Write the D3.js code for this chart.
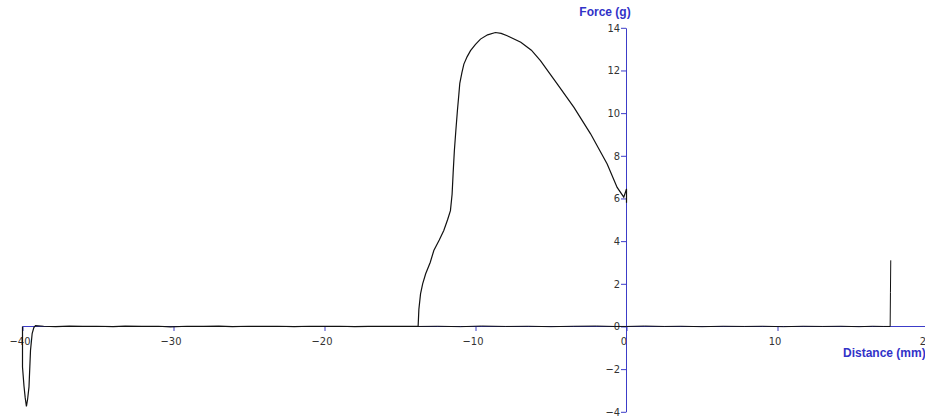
<!DOCTYPE html>
<html>
<head>
<meta charset="utf-8">
<script src="https://cdn.jsdelivr.net/npm/d3@7/dist/d3.min.js"></script>
<style>
  html, body { margin: 0; padding: 0; background: #ffffff; overflow: hidden; }
  svg { display: block; }
  .tick text { font-family: "DejaVu Sans", sans-serif; font-stretch: condensed; font-size: 11px; fill: #333; }
  .title { font-family: "Liberation Sans", Arial, sans-serif; font-weight: bold; font-size: 12px; fill: #3232c8; }
</style>
</head>
<body>
<svg id="chart" width="925" height="419"></svg>
<script>
// Axis ticks
const xTicks = [-40, -30, -20, -10, 0, 10, 20];
const yTicks = [-4, -2, 0, 2, 4, 6, 8, 10, 12, 14];

// Compression run: initial dip, flat approach, force peak, release at 0 mm
const pressDistance = [
  -40, -40, -39.9, -39.82, -39.74, -39.66, -39.57, -39.47, -39.36, -39.25, -39.14,
  -38.6, -37.8, -36.9, -36.0, -35.1, -34.0, -33.2, -32.1, -31.0, -30.2, -29.1, -28.0,
  -27.0, -26.1, -25.0, -24.0, -23.1, -22.0, -21.0, -20.1, -19.0, -18.0, -17.1, -16.0,
  -15.0, -14.4, -13.8,
  -13.75, -13.64, -13.5, -13.3, -13.0, -12.76, -12.4, -12.1, -11.85, -11.66, -11.55,
  -11.48, -11.4, -11.3, -11.2, -11.1, -11.04, -10.9, -10.77, -10.55, -10.33, -10.0,
  -9.67, -9.2, -8.68, -8.3, -7.9, -7.0, -6.3, -5.7, -4.59, -3.48, -2.38, -1.28,
  -0.62, -0.18, 0, 0
];
const pressForce = [
  0, -1.9, -2.8, -3.35, -3.75, -3.4, -2.83, -1.12, -0.33, -0.05, 0.04,
  0.01, -0.01, 0.02, 0, 0.01, -0.01, 0.02, 0, 0.01, -0.02, 0.01, 0,
  0.02, -0.01, 0.01, 0, 0.01, -0.01, 0.01, 0, 0.01, -0.01, 0, 0.01,
  0, 0.01, 0,
  0.8, 1.53, 2.0, 2.47, 3.0, 3.56, 4.05, 4.5, 5.0, 5.43, 6.2,
  7.2, 8.24, 9.2, 10.1, 10.9, 11.4, 11.9, 12.3, 12.65, 12.93, 13.22,
  13.47, 13.67, 13.78, 13.74, 13.63, 13.32, 12.95, 12.46, 11.37, 10.27, 9.03, 7.62,
  6.52, 6.06, 6.45, 5.8
];

// Return run along the baseline, ending with the spike at 17.5 mm
const returnDistance = [
  -13.8, -12.5, -11.0, -9.6, -8.0, -6.5, -5.0, -3.5, -2.0, -0.8, 0,
  1.2, 2.5, 3.6, 5.0, 6.4, 7.8, 9.0, 10.4, 11.7, 13.0, 14.2, 15.4, 16.3, 17.0, 17.46,
  17.48, 17.5
];
const returnForce = [
  0, 0.01, -0.01, 0.02, 0, 0.01, -0.01, 0.01, 0.02, 0, 0,
  0.02, 0, 0.01, -0.01, 0.01, 0, 0.01, -0.01, 0.01, 0, 0.01, -0.01, 0.01, 0, 0,
  1.6, 3.1
];

const svg = d3.select("#chart");
const x = d3.scaleLinear().domain([-40, 20]).range([22.5, 928.5]);
const y = d3.scaleLinear().domain([-4, 14]).range([411.8, 27.8]);
const axisColor = "#3c3cc8";

// X axis through zero force
const gx = svg.append("g")
  .attr("transform", `translate(0,${Math.round(y(0))})`)
  .call(d3.axisBottom(x).tickValues(xTicks).tickSize(5).tickSizeOuter(0).tickPadding(6)
    .tickFormat(d3.format("d")));
gx.select(".domain").attr("stroke", axisColor);
gx.selectAll(".tick line").attr("stroke", axisColor);
gx.selectAll(".tick text").attr("dx", "-3");

// Y axis through zero distance
const gy = svg.append("g")
  .attr("transform", `translate(${x(0) - 0.5},0)`)
  .call(d3.axisLeft(y).tickValues(yTicks).tickSize(5).tickSizeOuter(0).tickPadding(1)
    .tickFormat(d3.format("d")));
gy.select(".domain").attr("stroke", axisColor);
gy.selectAll(".tick line").attr("stroke", axisColor);

// Traces
const line = d3.line().x(d => x(d[0])).y(d => y(d[1]));
svg.append("path")
  .datum(returnDistance.map((d, i) => [d, returnForce[i]]))
  .attr("d", line).attr("fill", "none").attr("stroke", "#111").attr("stroke-width", 1);
svg.append("path")
  .datum(pressDistance.map((d, i) => [d, pressForce[i]]))
  .attr("d", line).attr("fill", "none").attr("stroke", "#111").attr("stroke-width", 1.2);

// Axis titles
svg.append("text").attr("class", "title")
  .attr("x", 605).attr("y", 16).attr("text-anchor", "middle").text("Force (g)");
svg.append("text").attr("class", "title")
  .attr("x", 843).attr("y", 357).attr("text-anchor", "start").text("Distance (mm)");
</script>
</body>
</html>
